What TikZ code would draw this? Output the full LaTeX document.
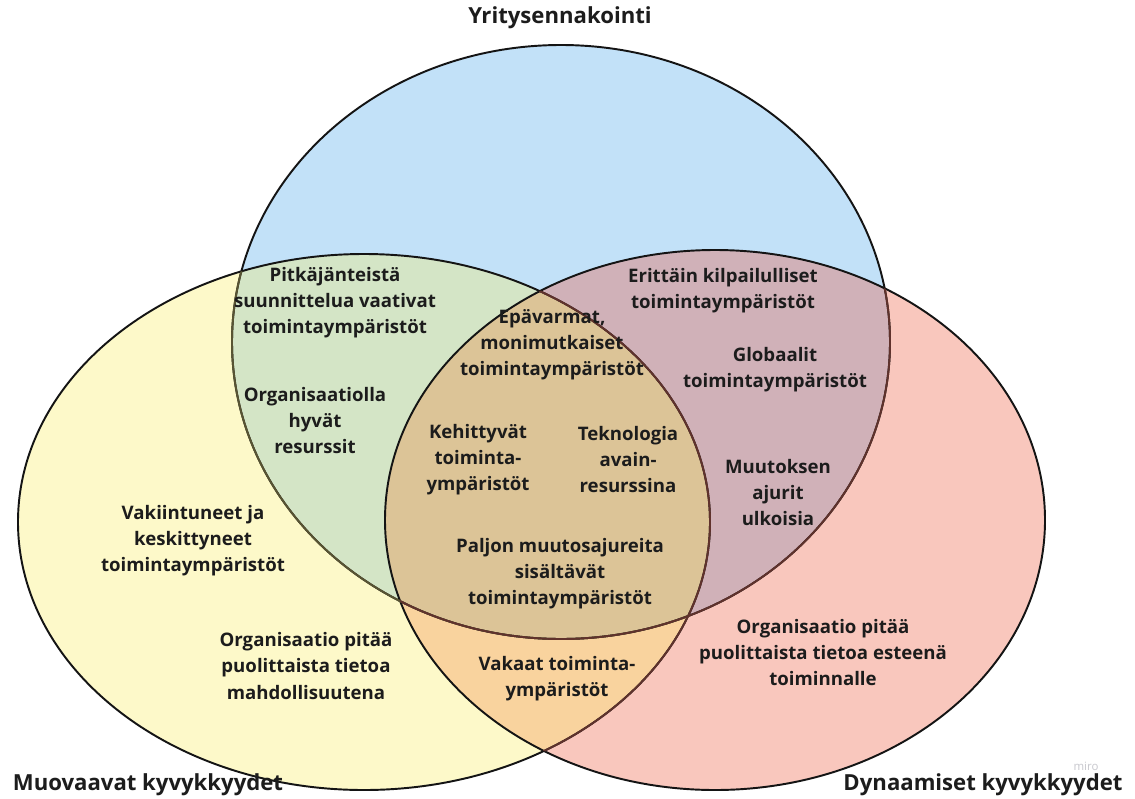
\documentclass[tikz,border=0pt]{standalone}
\usepackage{fontspec}
\setmainfont{Open Sans}
\definecolor{vennBlue}{RGB}{194,225,248}
\definecolor{vennYellow}{RGB}{253,249,201}
\definecolor{vennPink}{RGB}{249,199,189}
\definecolor{vennGreen}{RGB}{212,229,198}
\definecolor{vennPurple}{RGB}{208,177,184}
\definecolor{vennOrange}{RGB}{249,211,158}
\definecolor{vennCore}{RGB}{220,196,151}
\definecolor{vennRim}{RGB}{20,20,20}
\definecolor{vennRimOlive}{RGB}{88,84,50}
\definecolor{vennRimBrown}{RGB}{96,50,44}
\definecolor{vennText}{RGB}{28,28,28}
\definecolor{vennMark}{RGB}{200,200,206}
\begin{document}
\begin{tikzpicture}[x=.02cm,y=-.02cm,
    region/.style={font=\fontsize{10.6}{14.8}\selectfont\bfseries,
      text=vennText, align=center, inner sep=0pt},
    setname/.style={font=\fontsize{12.6}{15}\selectfont\bfseries,
      text=vennText, inner sep=0pt},
    rim/.style={draw=vennRim, line width=1.1pt}]
  \useasboundingbox (0,0) rectangle (1135,798);
  \fill[white] (0,0) rectangle (1135,798);
  \def\forecast{(561,342) ellipse [x radius=329, y radius=297]}
  \def\shaping{(364,522) ellipse [x radius=346, y radius=268]}
  \def\dynamic{(715,520) ellipse [x radius=330, y radius=270]}

  % base sets
  \fill[vennBlue] \forecast;
  \fill[vennYellow] \shaping;
  \fill[vennPink] \dynamic;

  % overlaps
  \begin{scope}
    \clip \forecast;
    \fill[vennGreen] \shaping;
    \fill[vennPurple] \dynamic;
  \end{scope}
  \begin{scope}
    \clip \shaping;
    \fill[vennOrange] \dynamic;
  \end{scope}
  \begin{scope}
    \clip \forecast;
    \clip \shaping;
    \fill[vennCore] \dynamic;
  \end{scope}

  % outlines
  \draw[rim] \forecast;
  \draw[rim] \shaping;
  \draw[rim] \dynamic;
  \begin{scope}
    \clip \shaping;
    \draw[rim, draw=vennRimOlive] \forecast;
  \end{scope}
  \begin{scope}
    \clip \dynamic;
    \draw[rim, draw=vennRimBrown] \forecast;
    \draw[rim, draw=vennRimBrown] \shaping;
  \end{scope}

  \node[setname] (forecastName) at (560,18) {Yritysennakointi};
  \node[setname] (shapingName) at (148,785) {Muovaavat kyvykkyydet};
  \node[setname] (dynamicName) at (983,785) {Dynaamiset kyvykkyydet};
  \node[font=\fontsize{6.5}{7}\selectfont, text=vennMark, inner sep=0pt]
    (mark) at (1086,766) {miro};

  \node[region] (longTerm) at (335,303)
    {Pitkäjänteistä\\suunnittelua vaativat\\toimintaympäristöt};
  \node[region] (goodResources) at (315,421)
    {Organisaatiolla\\hyvät\\resurssit};
  \node[region] (uncertain) at (552,345)
    {Epävarmat,\\monimutkaiset\\toimintaympäristöt};
  \node[region] (competitive) at (723,291)
    {Erittäin kilpailulliset\\toimintaympäristöt};
  \node[region] (global) at (775,370)
    {Globaalit\\toimintaympäristöt};
  \node[region] (developing) at (478,460)
    {Kehittyvät\\toiminta-\\ympäristöt};
  \node[region] (technology) at (628,460)
    {Teknologia\\avain-\\resurssina};
  \node[region] (externalDrivers) at (778,493)
    {Muutoksen\\ajurit\\ulkoisia};
  \node[region] (established) at (193,541)
    {Vakiintuneet ja\\keskittyneet\\toimintaympäristöt};
  \node[region] (manyDrivers) at (560,574)
    {Paljon muutosajureita\\sisältävät\\toimintaympäristöt};
  \node[region] (opportunity) at (306,666)
    {Organisaatio pitää\\puolittaista tietoa\\mahdollisuutena};
  \node[region] (obstacle) at (823,653)
    {Organisaatio pitää\\puolittaista tietoa esteenä\\toiminnalle};
  \node[region] (stable) at (557,679)
    {Vakaat toiminta-\\ympäristöt};
\end{tikzpicture}
\end{document}
